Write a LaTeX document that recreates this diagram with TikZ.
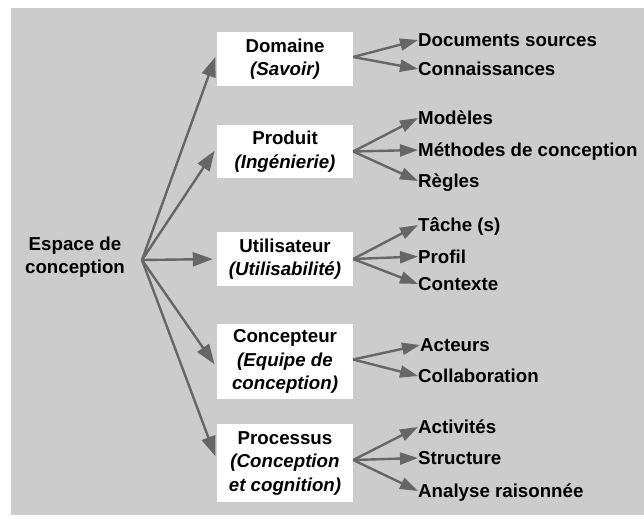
\documentclass[tikz,border=0pt]{standalone}
\usepackage{fontspec}
\setmainfont{Liberation Sans}
\usepackage{xcolor}
\usepackage{tikz}
\usetikzlibrary{arrows.meta}

\begin{document}
\begin{tikzpicture}[x=1pt,y=-1pt]
\tikzstyle{space} = [font=\fontsize{18.7}{23.5}\selectfont\bfseries,align=center,inner sep=0];
\tikzstyle{facet} = [font=\fontsize{18.7}{23.5}\selectfont\bfseries,align=center,fill=white,minimum width=136,inner sep=0];
\tikzstyle{item} = [font=\fontsize{18.7}{23.5}\selectfont\bfseries,anchor=west,inner sep=0,text height=13.4,text depth=0];
\tikzstyle{bigarrow} = [draw=black!60,line width=2.4,-{Triangle[length=20,width=14]},shorten >=4];
\tikzstyle{smallarrow} = [draw=black!60,line width=2.4,-{Triangle[length=18,width=12]}];
\useasboundingbox (0,0) rectangle (644,517);
\fill [gray!40] (11,8) rectangle (644,515);
% espace de conception
\node [space] (espace) at (75,257) {Espace de\\conception};
\coordinate (hub) at (142,260);
% facettes
\node [facet,minimum height=54] (domaine) at (285,59) {Domaine\\\textit{(Savoir)}};
\node [facet,minimum height=53] (produit) at (285,151.5) {Produit\\\textit{(Ingénierie)}};
\node [facet,minimum height=54] (utilisateur) at (285,259) {Utilisateur\\\textit{(Utilisabilité)}};
\node [facet,minimum height=75] (concepteur) at (285,361.5) {Concepteur\\\textit{(Equipe de}\\\textit{conception)}};
\node [facet,minimum height=78] (processus) at (285,463) {Processus\\\textit{(Conception}\\\textit{et cognition)}};
% elements
\node [item] (docs) at (418,40) {Documents sources};
\node [item] (connaissances) at (418,69) {Connaissances};
\node [item] (modeles) at (418,118) {Modèles};
\node [item] (methodes) at (418,150) {Méthodes de conception};
\node [item] (regles) at (418,181) {Règles};
\node [item] (taches) at (418,225) {Tâche (s)};
\node [item] (profil) at (418,256.5) {Profil};
\node [item] (contexte) at (418,284) {Contexte};
\node [item] (acteurs) at (420,345) {Acteurs};
\node [item] (collaboration) at (418,376) {Collaboration};
\node [item] (activites) at (418,427) {Activités};
\node [item] (structure) at (418,458) {Structure};
\node [item] (analyse) at (418,491) {Analyse raisonnée};
% fleches
\draw [bigarrow] (hub) -- ([yshift=6]domaine.west);
\draw [bigarrow] (hub) -- ([yshift=4]produit.west);
\draw [bigarrow] (hub) -- (utilisateur.west);
\draw [bigarrow] (hub) -- ([yshift=-6]concepteur.west);
\draw [bigarrow] (hub) -- ([yshift=3]processus.west);
\draw [smallarrow] ([yshift=2]domaine.east) -- (docs.west);
\draw [smallarrow] ([yshift=2]domaine.east) -- (connaissances.west);
\draw [smallarrow] (produit.east) -- (modeles.west);
\draw [smallarrow] (produit.east) -- (methodes.west);
\draw [smallarrow] (produit.east) -- (regles.west);
\draw [smallarrow] (utilisateur.east) -- (taches.west);
\draw [smallarrow] (utilisateur.east) -- (profil.west);
\draw [smallarrow] (utilisateur.east) -- (contexte.west);
\draw [smallarrow] ([yshift=2]concepteur.east) -- (acteurs.west);
\draw [smallarrow] ([yshift=2]concepteur.east) -- (collaboration.west);
\draw [smallarrow] ([yshift=3]processus.east) -- (activites.west);
\draw [smallarrow] ([yshift=3]processus.east) -- (structure.west);
\draw [smallarrow] ([yshift=3]processus.east) -- (analyse.west);
\end{tikzpicture}
\end{document}
